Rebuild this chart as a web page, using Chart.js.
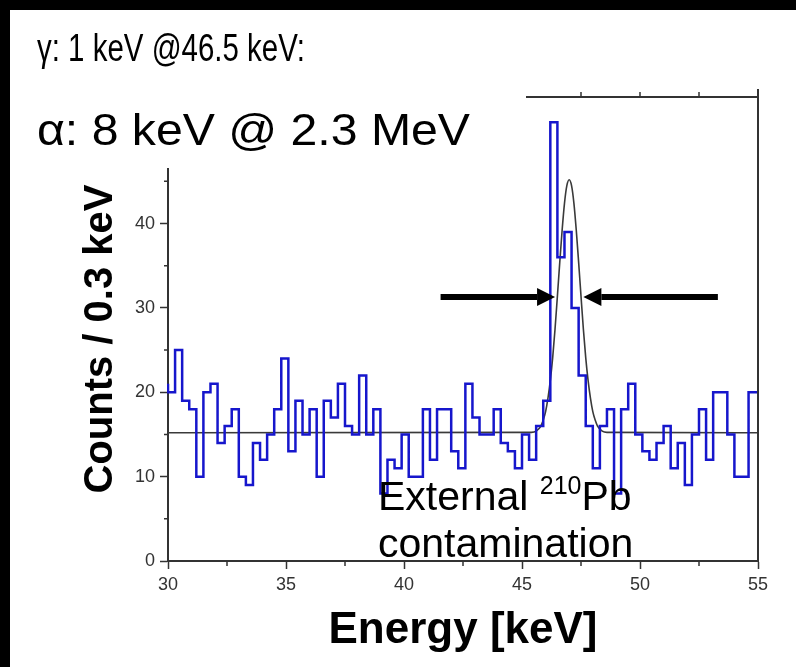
<!DOCTYPE html>
<html>
<head>
<meta charset="utf-8">
<script src="https://cdn.jsdelivr.net/npm/chart.js@4.4.1/dist/chart.umd.min.js"></script>
<style>
  html, body { margin: 0; padding: 0; background: #fff; }
  canvas { display: block; }
</style>
</head>
<body>
<canvas id="myChart" width="796" height="667"></canvas>
<script>
// histogram: counts per 0.3 keV bin, first bin starts at 30 keV
const binStart = 30;
const binWidth = 0.3;
const counts = [
  21, 20, 25, 19, 18, 10, 20, 21, 14, 16,
  18, 10, 9, 14, 12, 15, 18, 24, 13, 19,
  15, 18, 10, 19, 17, 21, 16, 15, 22, 15,
  18, 8, 12, 11, 15, 10, 10, 18, 12, 18,
  18, 13, 11, 21, 17, 15, 15, 18, 14, 13,
  11, 15, 12, 16, 19, 52, 36, 39, 30, 22,
  16, 11, 16, 18, 8, 18, 21, 15, 13, 12,
  14, 16, 11, 14, 9, 15, 18, 12, 20, 20,
  15, 10, 10, 20
];

// fit curve (flat background + peak)
const fitX = [30, 45.4, 45.6, 45.8, 45.9, 46.0, 46.1, 46.2, 46.3, 46.4, 46.5, 46.6, 46.7, 46.8, 46.9,
  47.0, 47.1, 47.2, 47.3, 47.4, 47.5, 47.6, 47.7, 47.8, 47.9, 48.0, 48.1, 48.2, 48.4, 48.6, 55];
const fitY = [15.2, 15.25, 15.4, 16.0, 16.7, 17.7, 19.3, 21.4, 24.1, 27.5, 31.4, 35.4, 39.2, 42.4, 44.5,
  45.2, 44.5, 42.4, 39.2, 35.4, 31.4, 27.5, 24.1, 21.4, 19.3, 17.7, 16.7, 16.0, 15.4, 15.25, 15.2];

// FWHM arrows: [tail, tip] in keV, at this count level
const arrowLeft = [41.55, 46.4];
const arrowRight = [53.3, 47.6];
const arrowY = 31.3;

const xTicks = [30, 35, 40, 45, 50, 55];
const yTicks = [0, 10, 20, 30, 40];

const histData = counts.map((c, i) => ({ x: binStart + i * binWidth, y: c }));
histData.push({ x: binStart + counts.length * binWidth, y: counts[counts.length - 1] });
const fitData = fitX.map((v, i) => ({ x: v, y: fitY[i] }));

const AXIS = "#333";
const FONT = "'Liberation Sans', Arial, sans-serif";

function drawArrow(ctx, x0, x1, y) {
  const dir = x1 > x0 ? 1 : -1;
  const head = 18;
  ctx.beginPath();
  ctx.moveTo(x0, y);
  ctx.lineTo(x1 - dir * head, y);
  ctx.lineWidth = 6;
  ctx.stroke();
  ctx.beginPath();
  ctx.moveTo(x1, y);
  ctx.lineTo(x1 - dir * head, y - 9);
  ctx.lineTo(x1 - dir * head, y + 9);
  ctx.closePath();
  ctx.fill();
}

// text squeezed / stretched to a given width
function fitText(ctx, text, x, y, width) {
  const w = ctx.measureText(text).width;
  ctx.save();
  ctx.translate(x, y);
  ctx.scale(width / w, 1);
  ctx.fillText(text, 0, 0);
  ctx.restore();
}

const overlay = {
  id: "overlay",
  afterDraw(chart) {
    const { ctx, chartArea: a, scales: { x, y } } = chart;
    ctx.save();

    // top and right frame
    ctx.strokeStyle = AXIS;
    ctx.lineWidth = 2;
    ctx.beginPath();
    ctx.moveTo(a.left, a.top);
    ctx.lineTo(a.right, a.top);
    ctx.moveTo(a.right, a.top - 8);
    ctx.lineTo(a.right, a.bottom);
    ctx.stroke();

    // minor ticks + top ticks
    ctx.lineWidth = 1.5;
    ctx.beginPath();
    for (let v = 5; v < 55; v += 10) {
      const py = y.getPixelForValue(v);
      ctx.moveTo(a.left - 4, py);
      ctx.lineTo(a.left, py);
    }
    for (let v = 32.5; v < 55; v += 5) {
      const px = x.getPixelForValue(v);
      ctx.moveTo(px, a.bottom);
      ctx.lineTo(px, a.bottom + 5);
    }
    for (let v = 32.5; v < 55; v += 2.5) {
      const px = x.getPixelForValue(v);
      ctx.moveTo(px, a.top);
      ctx.lineTo(px, a.top - 5);
    }
    ctx.stroke();

    // FWHM arrows
    ctx.strokeStyle = "#000";
    ctx.fillStyle = "#000";
    const ay = y.getPixelForValue(arrowY);
    drawArrow(ctx, x.getPixelForValue(arrowLeft[0]), x.getPixelForValue(arrowLeft[1]), ay);
    drawArrow(ctx, x.getPixelForValue(arrowRight[0]), x.getPixelForValue(arrowRight[1]), ay);

    // annotation
    ctx.fillStyle = "#000";
    ctx.textBaseline = "alphabetic";
    ctx.font = "41px " + FONT;
    let tx = 378;
    ctx.fillText("External ", tx, 510);
    tx += ctx.measureText("External ").width;
    ctx.font = "25px " + FONT;
    ctx.fillText("210", tx, 494);
    tx += ctx.measureText("210").width;
    ctx.font = "41px " + FONT;
    ctx.fillText("Pb", tx, 510);
    ctx.fillText("contamination", 378, 557);

    // y axis title
    ctx.save();
    ctx.translate(101, 339);
    ctx.rotate(-Math.PI / 2);
    ctx.textAlign = "center";
    ctx.textBaseline = "middle";
    ctx.font = "bold 40px " + FONT;
    ctx.fillText("Counts / 0.3 keV", 0, 0);
    ctx.restore();

    // white patch behind the header text
    ctx.fillStyle = "#fff";
    ctx.fillRect(10, 10, 516, 158);

    ctx.fillStyle = "#000";
    ctx.font = "38px " + FONT;
    fitText(ctx, "γ: 1 keV @46.5 keV:", 37, 61, 268);
    ctx.font = "45px " + FONT;
    fitText(ctx, "α: 8 keV @ 2.3 MeV", 37, 145, 433);

    // black slide frame
    ctx.fillRect(0, 0, 796, 10);
    ctx.fillRect(0, 0, 10, 667);
    ctx.restore();
  }
};

const ctx = document.getElementById("myChart");
const myChart = new Chart(ctx, {
  type: "line",
  data: {
    datasets: [
      {
        data: histData,
        borderColor: "#1616cc",
        borderWidth: 2.5,
        stepped: "after",
        pointRadius: 0,
        fill: false,
        clip: 1,
      },
      {
        data: fitData,
        borderColor: "#3a3a3a",
        borderWidth: 1.6,
        cubicInterpolationMode: "monotone",
        pointRadius: 0,
        fill: false,
        clip: 1,
      },
    ],
  },
  options: {
    responsive: false,
    animation: false,
    devicePixelRatio: 1,
    layout: { padding: { top: 97, right: 38, left: 0, bottom: 0 } },
    plugins: {
      legend: { display: false },
      tooltip: { enabled: false },
    },
    scales: {
      x: {
        type: "linear",
        min: 30,
        max: 55,
        afterFit: (s) => { s.height = 106; },
        afterBuildTicks: (s) => { s.ticks = xTicks.map((v) => ({ value: v })); },
        ticks: {
          font: { family: FONT, size: 18 },
          color: "#333",
          padding: 5,
          maxRotation: 0,
        },
        grid: {
          drawOnChartArea: false,
          tickLength: 8,
          tickWidth: 1.5,
          tickColor: AXIS,
        },
        border: { color: AXIS, width: 2 },
        title: {
          display: true,
          text: "Energy [keV]",
          font: { family: FONT, size: 44, weight: "bold" },
          color: "#000",
          padding: { top: 0, bottom: 10 },
        },
      },
      y: {
        min: 0,
        max: 55,
        afterFit: (s) => { s.width = 168; },
        afterBuildTicks: (s) => { s.ticks = yTicks.map((v) => ({ value: v })); },
        ticks: {
          font: { family: FONT, size: 18 },
          color: "#333",
          padding: 5,
        },
        grid: {
          drawOnChartArea: false,
          tickLength: 8,
          tickWidth: 1.5,
          tickColor: AXIS,
        },
        border: { color: AXIS, width: 2 },
      },
    },
  },
  plugins: [overlay],
});
</script>
</body>
</html>
